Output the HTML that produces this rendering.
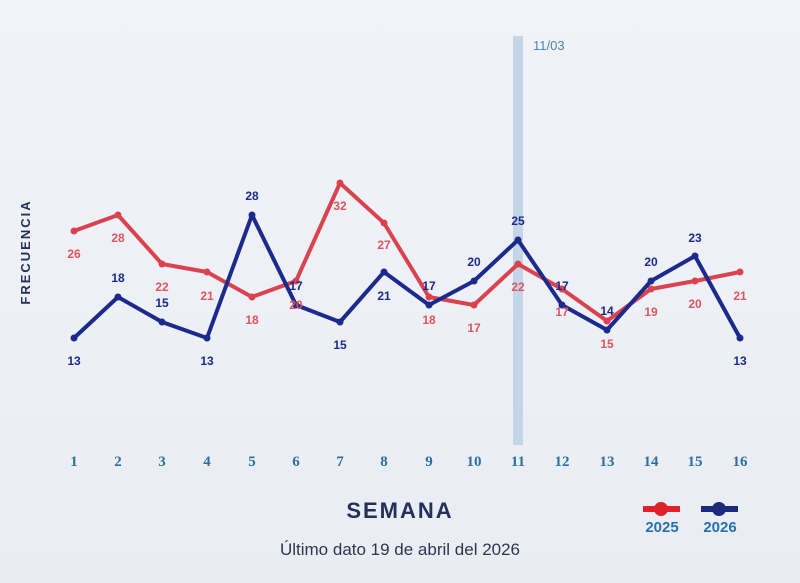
<!DOCTYPE html>
<html><head><meta charset="utf-8"><style>
html,body{margin:0;padding:0;background:#eef1f6;}
svg{display:block}
</style></head><body>
<svg width="800" height="583" viewBox="0 0 800 583" xmlns="http://www.w3.org/2000/svg">
<defs><linearGradient id="bg" x1="0" y1="0" x2="0" y2="1"><stop offset="0" stop-color="#f1f3f8"/><stop offset="1" stop-color="#e9edf3"/></linearGradient></defs>
<rect width="800" height="583" fill="url(#bg)"/>
<rect x="513" y="36" width="10" height="409" fill="#c3d5e6"/>
<text x="533" y="50" font-family="Liberation Sans, sans-serif" font-size="13" fill="#4a86b8">11/03</text>
<text transform="translate(30,252) rotate(-90)" text-anchor="middle" font-family="Liberation Sans, sans-serif" font-weight="bold" font-size="13" letter-spacing="2" fill="#22305a">FRECUENCIA</text>
<polyline fill="none" stroke="#d9434f" stroke-width="4" stroke-linejoin="round" points="74,231 118,215 162,264 207,272 252,297 296,281 340,183 384,223 429,297 474,305 518,264 562,289 607,321 651,289 695,281 740,272"/>
<g fill="#d9434f">
<circle cx="74" cy="231" r="3.5"/><circle cx="118" cy="215" r="3.5"/><circle cx="162" cy="264" r="3.5"/><circle cx="207" cy="272" r="3.5"/><circle cx="252" cy="297" r="3.5"/><circle cx="296" cy="281" r="3.5"/><circle cx="340" cy="183" r="3.5"/><circle cx="384" cy="223" r="3.5"/><circle cx="429" cy="297" r="3.5"/><circle cx="474" cy="305" r="3.5"/><circle cx="518" cy="264" r="3.5"/><circle cx="562" cy="289" r="3.5"/><circle cx="607" cy="321" r="3.5"/><circle cx="651" cy="289" r="3.5"/><circle cx="695" cy="281" r="3.5"/><circle cx="740" cy="272" r="3.5"/>
</g>
<polyline fill="none" stroke="#1b2a8c" stroke-width="4" stroke-linejoin="round" points="74,338 118,297 162,322 207,338 252,215 296,305 340,322 384,272 429,305 474,281 518,240 562,305 607,330 651,281 695,256 740,338"/>
<g fill="#1b2a8c">
<circle cx="74" cy="338" r="3.5"/><circle cx="118" cy="297" r="3.5"/><circle cx="162" cy="322" r="3.5"/><circle cx="207" cy="338" r="3.5"/><circle cx="252" cy="215" r="3.5"/><circle cx="296" cy="305" r="3.5"/><circle cx="340" cy="322" r="3.5"/><circle cx="384" cy="272" r="3.5"/><circle cx="429" cy="305" r="3.5"/><circle cx="474" cy="281" r="3.5"/><circle cx="518" cy="240" r="3.5"/><circle cx="562" cy="305" r="3.5"/><circle cx="607" cy="330" r="3.5"/><circle cx="651" cy="281" r="3.5"/><circle cx="695" cy="256" r="3.5"/><circle cx="740" cy="338" r="3.5"/>
</g>
<g font-family="Liberation Sans, sans-serif" font-weight="bold" font-size="12" text-anchor="middle" fill="#e0545e">
<text x="74" y="258">26</text><text x="118" y="242">28</text><text x="162" y="291">22</text><text x="207" y="300">21</text><text x="252" y="324">18</text><text x="296" y="309">20</text><text x="340" y="210">32</text><text x="384" y="249">27</text><text x="429" y="324">18</text><text x="474" y="332">17</text><text x="518" y="291">22</text><text x="562" y="316">17</text><text x="607" y="348">15</text><text x="651" y="316">19</text><text x="695" y="308">20</text><text x="740" y="300">21</text>
</g>
<g font-family="Liberation Sans, sans-serif" font-weight="bold" font-size="12" text-anchor="middle" fill="#1b2a8c">
<text x="74" y="365">13</text><text x="118" y="282">18</text><text x="162" y="307">15</text><text x="207" y="365">13</text><text x="252" y="200">28</text><text x="296" y="290">17</text><text x="340" y="349">15</text><text x="384" y="300">21</text><text x="429" y="290">17</text><text x="474" y="266">20</text><text x="518" y="225">25</text><text x="562" y="290">17</text><text x="607" y="315">14</text><text x="651" y="266">20</text><text x="695" y="242">23</text><text x="740" y="365">13</text>
</g>
<g font-family="Liberation Serif, serif" font-weight="bold" font-size="15" text-anchor="middle" fill="#2a6fa0">
<text x="74" y="466">1</text><text x="118" y="466">2</text><text x="162" y="466">3</text><text x="207" y="466">4</text><text x="252" y="466">5</text><text x="296" y="466">6</text><text x="340" y="466">7</text><text x="384" y="466">8</text><text x="429" y="466">9</text><text x="474" y="466">10</text><text x="518" y="466">11</text><text x="562" y="466">12</text><text x="607" y="466">13</text><text x="651" y="466">14</text><text x="695" y="466">15</text><text x="740" y="466">16</text>
</g>
<text x="400" y="518" text-anchor="middle" font-family="Liberation Sans, sans-serif" font-weight="bold" font-size="22" letter-spacing="2" fill="#22305a">SEMANA</text>
<text x="400" y="555" text-anchor="middle" font-family="Liberation Sans, sans-serif" font-size="17" fill="#2e3550">Último dato 19 de abril del 2026</text>
<rect x="643" y="506" width="37" height="6" fill="#e0202a"/><circle cx="661" cy="509" r="7" fill="#e0202a"/>
<rect x="701" y="506" width="37" height="6" fill="#1b2a7a"/><circle cx="719" cy="509" r="7" fill="#1b2a7a"/>
<g font-family="Liberation Sans, sans-serif" font-weight="bold" font-size="15" text-anchor="middle" fill="#2670b0">
<text x="662" y="532">2025</text><text x="720" y="532">2026</text>
</g>
</svg>
</body></html>
